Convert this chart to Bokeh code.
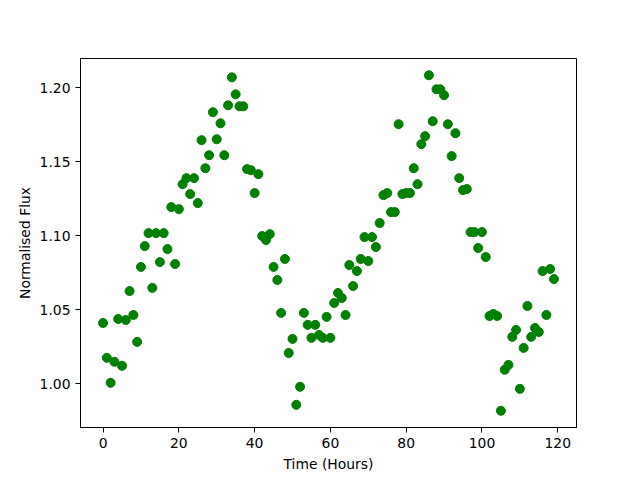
from bokeh.plotting import figure
from bokeh.models import Range1d, FixedTicker, PrintfTickFormatter
from bokeh.embed import file_html
from bokeh.resources import INLINE

time_hours = [0, 1, 2, 3, 4, 5, 6, 7, 8, 9,
              10, 11, 12, 13, 14, 15, 16, 17, 18, 19,
              20, 21, 22, 23, 24, 25, 26, 27, 28, 29,
              30, 31, 32, 33, 34, 35, 36, 37, 38, 39,
              40, 41, 42, 43, 44, 45, 46, 47, 48, 49,
              50, 51, 52, 53, 54, 55, 56, 57, 58, 59,
              60, 61, 62, 63, 64, 65, 66, 67, 68, 69,
              70, 71, 72, 73, 74, 75, 76, 77, 78, 79,
              80, 81, 82, 83, 84, 85, 86, 87, 88, 89,
              90, 91, 92, 93, 94, 95, 96, 97, 98, 99,
              100, 101, 102, 103, 104, 105, 106, 107, 108, 109,
              110, 111, 112, 113, 114, 115, 116, 117, 118, 119]

flux = [1.0410, 1.0174, 1.0005, 1.0147, 1.0437, 1.0120, 1.0430, 1.0626, 1.0464, 1.0282,
        1.0789, 1.0930, 1.1018, 1.0647, 1.1018, 1.0822, 1.1018, 1.0910, 1.1194, 1.0809,
        1.1180, 1.1349, 1.1390, 1.1282, 1.1390, 1.1221, 1.1647, 1.1457, 1.1545, 1.1836,
        1.1653, 1.1761, 1.1545, 1.1883, 1.2072, 1.1957, 1.1876, 1.1876, 1.1451, 1.1444,
        1.1289, 1.1417, 1.0998, 1.0971, 1.1011, 1.0789, 1.0701, 1.0478, 1.0843, 1.0207,
        1.0302, 0.9856, 0.9978, 1.0478, 1.0397, 1.0309, 1.0397, 1.0329, 1.0309, 1.0451,
        1.0309, 1.0545, 1.0613, 1.0579, 1.0464, 1.0802, 1.0660, 1.0761, 1.0843, 1.0991,
        1.0829, 1.0991, 1.0924, 1.1086, 1.1275, 1.1289, 1.1160, 1.1160, 1.1755, 1.1282,
        1.1289, 1.1289, 1.1457, 1.1349, 1.1620, 1.1674, 1.2086, 1.1775, 1.1991, 1.1991,
        1.1951, 1.1755, 1.1539, 1.1694, 1.1390, 1.1309, 1.1316, 1.1025, 1.1025, 1.0917,
        1.1025, 1.0856, 1.0457, 1.0471, 1.0457, 0.9816, 1.0093, 1.0126, 1.0316, 1.0363,
        0.9964, 1.0241, 1.0525, 1.0316, 1.0376, 1.0349, 1.0761, 1.0464, 1.0775, 1.0707]

x_ticks = [0, 20, 40, 60, 80, 100, 120]
y_ticks = [1.00, 1.05, 1.10, 1.15, 1.20]

xmin, xmax = min(time_hours), max(time_hours)
ymin, ymax = min(flux), max(flux)
xpad = 0.05 * (xmax - xmin)
ypad = 0.05 * (ymax - ymin)

p = figure(width=640, height=480, output_backend="svg", toolbar_location=None,
           x_range=Range1d(xmin - xpad, xmax + xpad),
           y_range=Range1d(ymin - ypad, ymax + ypad),
           min_border_left=80, min_border_right=64,
           min_border_top=58, min_border_bottom=53)

p.scatter(time_hours, flux, size=9, color="#008000", line_color="#008000")

p.grid.visible = False
p.outline_line_color = "black"
p.outline_line_width = 1
p.background_fill_color = "white"
p.border_fill_color = "white"

p.xaxis.ticker = FixedTicker(ticks=x_ticks)
p.yaxis.ticker = FixedTicker(ticks=y_ticks)
p.yaxis.formatter = PrintfTickFormatter(format="%.2f")
p.xaxis.axis_label = "Time (Hours)"
p.yaxis.axis_label = "Normalised Flux"

for ax in (p.xaxis, p.yaxis):
    ax.axis_line_color = "black"
    ax.axis_line_width = 1
    ax.major_tick_line_color = "black"
    ax.major_tick_out = 5
    ax.major_tick_in = 0
    ax.minor_tick_line_color = None
    ax.major_label_text_font = "DejaVu Sans"
    ax.major_label_text_font_size = "13.9px"
    ax.major_label_text_color = "black"
    ax.axis_label_text_font = "DejaVu Sans"
    ax.axis_label_text_font_size = "13.9px"
    ax.axis_label_text_font_style = "normal"
    ax.axis_label_text_color = "black"
    ax.major_label_standoff = 5

p.xaxis.axis_label_standoff = 5
p.yaxis.axis_label_standoff = 4

open("out.html", "w").write(file_html(p, INLINE))
